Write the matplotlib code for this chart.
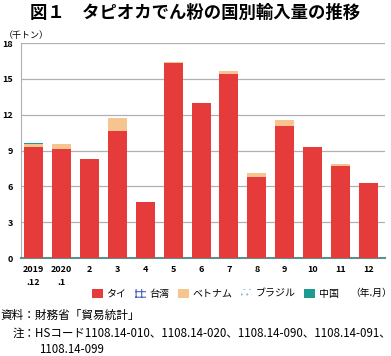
import matplotlib.pyplot as plt
import numpy as np
from matplotlib.patches import Patch

plt.rcParams['font.family'] = ['Noto Sans CJK JP', 'DejaVu Sans']
plt.rcParams['hatch.linewidth'] = 0.8

months = ['2019\n.12', '2020\n.1', '2', '3', '4', '5', '6', '7', '8', '9', '10', '11', '12']
thai = [9.3, 9.15, 8.3, 10.6, 4.7, 16.3, 12.95, 15.45, 6.75, 11.05, 9.28, 7.75, 6.25]
taiwan = [0, 0, 0, 0, 0, 0, 0, 0, 0, 0, 0, 0, 0]
vietnam = [0.25, 0.4, 0, 1.1, 0, 0.1, 0, 0.25, 0.35, 0.5, 0, 0.12, 0]
brazil = [0, 0, 0, 0, 0, 0, 0, 0, 0, 0, 0, 0, 0]
china = [0.1, 0, 0, 0, 0, 0, 0, 0, 0, 0, 0, 0, 0]

c_thai = '#e53b3a'
c_taiwan = '#4a62b8'
c_viet = '#f6c58f'
c_brazil = '#8fc0dc'
c_china = '#1e9a90'

fig = plt.figure(figsize=(3.91, 3.56), dpi=100)
ax = fig.add_axes([0.054, 0.275, 0.931, 0.604])

x = np.arange(len(months))
w = 0.68
bottom = np.zeros(len(months))
ax.bar(x, thai, w, bottom=bottom, color=c_thai, zorder=3)
bottom += thai
ax.bar(x, taiwan, w, bottom=bottom, color='white', edgecolor=c_taiwan, hatch='+++', linewidth=0, zorder=3)
bottom += taiwan
ax.bar(x, vietnam, w, bottom=bottom, color=c_viet, zorder=3)
bottom += vietnam
ax.bar(x, brazil, w, bottom=bottom, color='white', edgecolor=c_brazil, hatch='...', linewidth=0, zorder=3)
bottom += brazil
ax.bar(x, china, w, bottom=bottom, color=c_china, zorder=3)

ax.set_ylim(0, 18)
ax.set_xlim(-0.45, 12.6)
ax.set_yticks(range(0, 19, 3))
ax.yaxis.grid(True, color='#b0b0b0', linewidth=0.9, zorder=0)
ax.set_xticks(x)
ax.set_xticklabels(months, fontsize=6.5, linespacing=1.6, fontweight='bold', va='top')
ax.tick_params(axis='y', labelsize=6.5, length=0, pad=6)
ax.tick_params(axis='x', length=0, pad=5)
for t in ax.get_yticklabels():
    t.set_fontweight('bold')
for s in ['top', 'right']:
    ax.spines[s].set_visible(False)
ax.spines['left'].set_color('#b0b0b0')
ax.spines['bottom'].set_color('#5f8f8c')
ax.spines['bottom'].set_linewidth(1.5)

fig.text(0.5, 0.965, '図１　タピオカでん粉の国別輸入量の推移', ha='center', va='center',
         fontsize=12.5, fontweight='bold')
fig.text(0.01, 0.9, '（千トン）', fontsize=6.5, va='center')

handles = [Patch(facecolor=c_thai), Patch(facecolor='white', edgecolor=c_taiwan, hatch='+++', linewidth=0),
           Patch(facecolor=c_viet), Patch(facecolor='white', edgecolor=c_brazil, hatch='...', linewidth=0),
           Patch(facecolor=c_china)]
labels = ['タイ', '台湾', 'ベトナム', 'ブラジル', '中国']
fig.legend(handles, labels, loc='center', bbox_to_anchor=(0.55, 0.175), ncol=5, frameon=False,
           fontsize=7.2, handlelength=1.1, handleheight=1.1, handletextpad=0.4, columnspacing=0.8)
fig.text(0.895, 0.178, '（年.月）', fontsize=7, va='center')

fig.text(0.0, 0.115, '資料：財務省「貿易統計」', fontsize=8.4, va='center')
fig.text(0.033, 0.065, '注：HSコード1108.14-010、1108.14-020、1108.14-090、1108.14-091、',
         fontsize=8.3, va='center')
fig.text(0.1, 0.018, '1108.14-099', fontsize=8.3, va='center')

fig.savefig('out.png', dpi=100)
